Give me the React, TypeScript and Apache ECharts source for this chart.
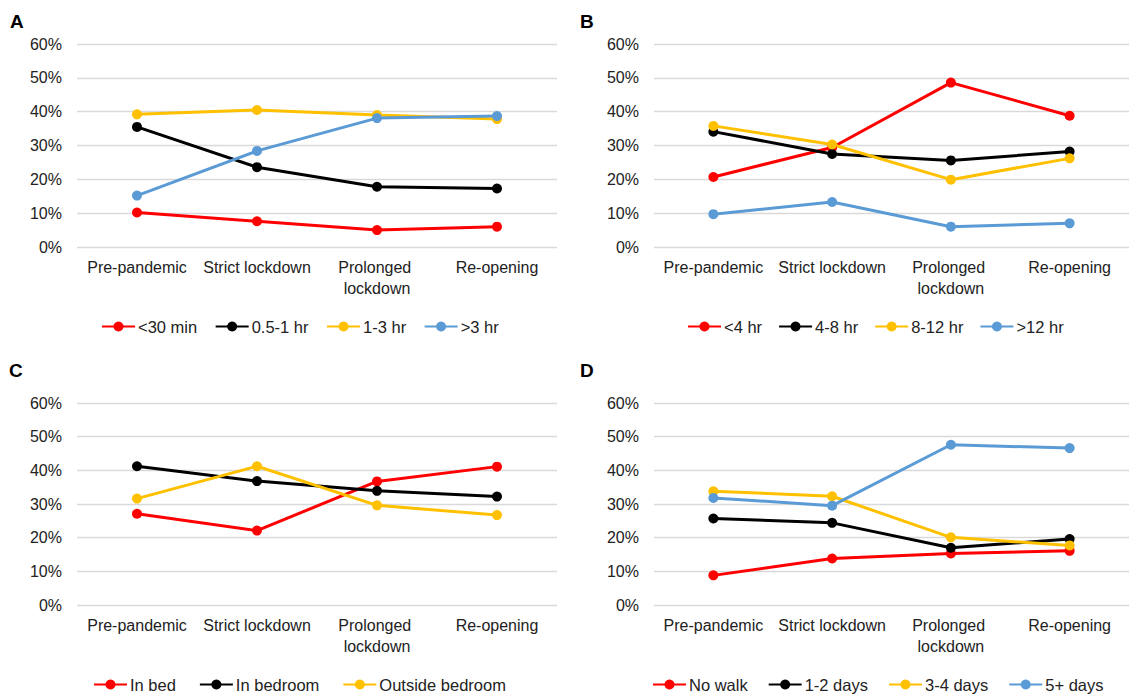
import React, { useEffect, useRef } from "react";
import * as echarts from "echarts";

const categories = ["Pre-pandemic", "Strict lockdown", "Prolonged lockdown", "Re-opening"];
const yTicks = [0, 10, 20, 30, 40, 50, 60];

// Panel A
const aNames = ["<30 min", "0.5-1 hr", "1-3 hr", ">3 hr"];
const aLt30 = [10.2, 7.6, 5.0, 6.0];
const aHalfTo1 = [35.5, 23.6, 17.8, 17.3];
const a1to3 = [39.2, 40.5, 39.0, 37.8];
const aGt3 = [15.2, 28.4, 38.1, 38.7];

// Panel B
const bNames = ["<4 hr", "4-8 hr", "8-12 hr", ">12 hr"];
const bLt4 = [20.7, 29.4, 48.6, 38.8];
const b4to8 = [34.1, 27.5, 25.6, 28.2];
const b8to12 = [35.8, 30.3, 19.9, 26.2];
const bGt12 = [9.7, 13.3, 6.0, 7.0];

// Panel C
const cNames = ["In bed", "In bedroom", "Outside bedroom"];
const cInBed = [27.1, 22.1, 36.7, 41.1];
const cInBedroom = [41.2, 36.8, 33.9, 32.2];
const cOutside = [31.6, 41.2, 29.6, 26.7];

// Panel D
const dNames = ["No walk", "1-2 days", "3-4 days", "5+ days"];
const dNoWalk = [8.8, 13.8, 15.3, 16.1];
const d1to2 = [25.7, 24.4, 17.0, 19.6];
const d3to4 = [33.8, 32.3, 20.1, 17.7];
const d5plus = [31.8, 29.5, 47.6, 46.6];

const panelLetters = ["A", "B", "C", "D"];
const colors = ["#FF0000", "#000000", "#FFC000", "#5B9BD5"];

const FONT = "'Liberation Sans', Arial, sans-serif";
const TEXT = "#222222";

export default function App() {
  const ref = useRef<HTMLDivElement>(null);
  useEffect(() => {
    if (!ref.current) return;
    const chart = echarts.init(ref.current, undefined, { renderer: "svg" });

    const grids = [
      { left: 77, top: 44, width: 480, height: 203 },
      { left: 654, top: 44, width: 480, height: 203 },
      { left: 77, top: 403, width: 480, height: 202 },
      { left: 654, top: 403, width: 480, height: 202 },
    ];

    const panels = [
      { names: aNames, data: [aLt30, aHalfTo1, a1to3, aGt3] },
      { names: bNames, data: [bLt4, b4to8, b8to12, bGt12] },
      { names: cNames, data: [cInBed, cInBedroom, cOutside] },
      { names: dNames, data: [dNoWalk, d1to2, d3to4, d5plus] },
    ];

    const legendPos = [
      { left: 101, top: 318, gap: 17.5 },
      { left: 687, top: 318, gap: 16 },
      { left: 93, top: 676, gap: 23 },
      { left: 652, top: 676, gap: 20 },
    ];
    const titlePos = [
      { left: 10, top: 12 },
      { left: 580, top: 12 },
      { left: 9, top: 361 },
      { left: 580, top: 361 },
    ];

    const series: any[] = [];
    panels.forEach((p, gi) => {
      p.names.forEach((name, si) => {
        series.push({
          type: "line",
          name,
          xAxisIndex: gi,
          yAxisIndex: gi,
          data: p.data[si],
          symbol: "circle",
          symbolSize: 10,
          color: colors[si],
          lineStyle: { width: 3, color: colors[si] },
          itemStyle: { color: colors[si] },
          emphasis: { disabled: true },
        });
      });
    });

    chart.setOption({
      animation: false,
      textStyle: { fontFamily: FONT },
      title: panelLetters.map((t, i) => ({
        text: t,
        left: titlePos[i].left,
        top: titlePos[i].top,
        padding: 0,
        textStyle: { fontSize: 19, fontWeight: "bold", color: "#000", fontFamily: FONT },
      })),
      grid: grids.map((g) => ({ ...g, containLabel: false })),
      legend: panels.map((p, i) => ({
        data: p.names,
        left: legendPos[i].left,
        top: legendPos[i].top,
        padding: 0,
        itemWidth: 33,
        itemHeight: 12.5,
        itemGap: legendPos[i].gap,
        selectedMode: false,
        textStyle: { fontSize: 16.5, color: TEXT, fontFamily: FONT, padding: [0, 0, 0, -2] },
      })),
      xAxis: grids.map((_, i) => ({
        type: "category",
        gridIndex: i,
        data: categories,
        boundaryGap: true,
        axisLine: { show: false },
        axisTick: { show: false },
        axisLabel: {
          interval: 0,
          fontSize: 16,
          color: TEXT,
          fontFamily: FONT,
          margin: 10,
          width: 118,
          overflow: "break",
          lineHeight: 21,
        },
      })),
      yAxis: grids.map((_, i) => ({
        type: "value",
        gridIndex: i,
        min: yTicks[0],
        max: yTicks[yTicks.length - 1],
        interval: 10,
        axisLine: { show: false },
        axisTick: { show: false },
        axisLabel: {
          formatter: "{value}%",
          fontSize: 16,
          color: TEXT,
          fontFamily: FONT,
          margin: 15,
        },
        splitLine: { show: true, lineStyle: { color: "#D9D9D9", width: 1.3 } },
      })),
      series,
    });
    return () => chart.dispose();
  }, []);

  return (
    <div
      ref={ref}
      style={{ position: "absolute", left: 0, top: 0, width: 1131, height: 696, background: "#fff" }}
    />
  );
}
